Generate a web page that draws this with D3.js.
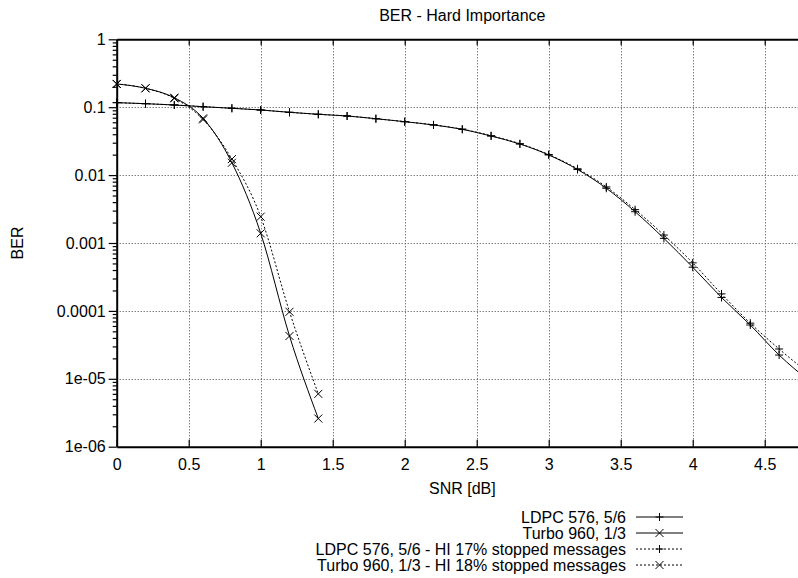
<!DOCTYPE html>
<html>
<head>
<meta charset="utf-8">
<script src="https://cdn.jsdelivr.net/npm/d3@7"></script>
<style>
  html, body { margin: 0; padding: 0; background: #fff; }
  svg { display: block; }
  text { font-family: "Liberation Sans", Arial, Helvetica, sans-serif; fill: #000; }
</style>
</head>
<body>
<svg id="chart" width="798" height="578"></svg>
<script>
// ---------- data ----------
const snrLdpc = [0, 0.2, 0.4, 0.6, 0.8, 1.0, 1.2, 1.4, 1.6, 1.8, 2.0, 2.2, 2.4, 2.6, 2.8, 3.0, 3.2, 3.4, 3.6, 3.8, 4.0, 4.2, 4.4, 4.6, 4.8];
const berLdpc = [0.1166, 0.1127, 0.1078, 0.1018, 0.0964, 0.091, 0.0841, 0.0786, 0.0742, 0.0677, 0.0612, 0.0547, 0.0472, 0.0376, 0.0287, 0.0198, 0.0121, 0.0064, 0.00289, 0.00117, 0.00044, 0.000158, 0.000062, 0.0000224, 0.0000096];
const berLdpcHI = [0.1166, 0.1127, 0.1078, 0.1018, 0.0964, 0.091, 0.0841, 0.0786, 0.0742, 0.0677, 0.0612, 0.0550, 0.0475, 0.0380, 0.0290, 0.0201, 0.0124, 0.0067, 0.0031, 0.00131, 0.00051, 0.000178, 0.000066, 0.0000275, 0.0000123];
const snrTurbo = [0, 0.2, 0.4, 0.6, 0.8, 1.0, 1.2, 1.4];
const berTurbo = [0.22, 0.19, 0.138, 0.0686, 0.0152, 0.00139, 0.0000427, 0.0000026];
const berTurboHI = [0.22, 0.19, 0.135, 0.066, 0.0172, 0.00244, 0.000097, 0.000006];

const xTickValues = [0, 0.5, 1, 1.5, 2, 2.5, 3, 3.5, 4, 4.5];
const xTickLabels = ["0", "0.5", "1", "1.5", "2", "2.5", "3", "3.5", "4", "4.5"];
const yTickValues = [1, 0.1, 0.01, 0.001, 0.0001, 0.00001, 0.000001];
const yTickLabels = ["1", "0.1", "0.01", "0.001", "0.0001", "1e-05", "1e-06"];

const titleText = "BER - Hard Importance";
const xLabel = "SNR [dB]";
const yLabel = "BER";
const legendLabels = ["LDPC 576, 5/6", "Turbo 960, 1/3", "LDPC 576, 5/6 - HI 17% stopped messages", "Turbo 960, 1/3 - HI 18% stopped messages"];

// ---------- layout ----------
(function () {
const FS = 16;
const pLeft = 116.7, pTop = 39.3, pBottom = 446.7;
const svg = d3.select("#chart");

const x = d3.scaleLinear().domain([0, 4.8]).range([pLeft, pLeft + 4.8 * 144]);
const y = d3.scaleLog().domain([1e-6, 1]).range([pBottom, pTop]);
const pRight = x(4.8);

svg.append("defs").append("clipPath").attr("id", "plotclip")
  .append("rect").attr("x", pLeft).attr("y", pTop).attr("width", pRight - pLeft).attr("height", pBottom - pTop);

// grid
const grid = svg.append("g").attr("stroke", "#444").attr("stroke-width", 1).attr("stroke-dasharray", "1,2");
grid.selectAll("line.vx").data(xTickValues.filter(v => v > 0)).join("line")
  .attr("x1", d => Math.round(x(d)) + 0.5).attr("x2", d => Math.round(x(d)) + 0.5)
  .attr("y1", pTop).attr("y2", pBottom);
grid.selectAll("line.hy").data(yTickValues.filter(v => v < 1 && v > 1e-6)).join("line")
  .attr("y1", d => Math.round(y(d)) + 0.5).attr("y2", d => Math.round(y(d)) + 0.5)
  .attr("x1", pLeft).attr("x2", pRight);

// axes
const xAxisB = svg.append("g").attr("transform", `translate(0,${pBottom})`)
  .call(d3.axisBottom(x).tickValues(xTickValues).tickFormat((d, i) => xTickLabels[i]).tickSize(-7).tickPadding(12).tickSizeOuter(0));
const xAxisT = svg.append("g").attr("transform", `translate(0,${pTop})`)
  .call(d3.axisTop(x).tickValues(xTickValues).tickFormat("").tickSize(-6).tickSizeOuter(0));
const yAxis = svg.append("g").attr("transform", `translate(${pLeft},0)`)
  .call(d3.axisLeft(y).tickValues(yTickValues).tickFormat((d, i) => yTickLabels[i]).tickSize(8).tickPadding(3).tickSizeOuter(0));
const minorVals = [];
for (let e = -6; e < 0; e++) for (let m = 2; m <= 9; m++) minorVals.push(m * Math.pow(10, e));
svg.append("g").attr("transform", `translate(${pLeft},0)`)
  .call(d3.axisLeft(y).tickValues(minorVals).tickFormat("").tickSize(4).tickSizeOuter(0))
  .select(".domain").remove();

[xAxisB, xAxisT, yAxis].forEach(g => {
  g.select(".domain").attr("stroke", "#000").attr("stroke-width", 2);
  g.selectAll(".tick text").attr("font-size", FS).attr("font-family", "Liberation Sans, Arial, sans-serif").attr("fill", "#000");
});
svg.selectAll(".tick line").attr("stroke", "#000").attr("stroke-width", 1.2);

// titles
svg.append("text").attr("x", (pLeft + pRight) / 2).attr("y", 21).attr("text-anchor", "middle").attr("font-size", FS).text(titleText);
svg.append("text").attr("x", (pLeft + pRight) / 2).attr("y", 494).attr("text-anchor", "middle").attr("font-size", FS).text(xLabel);
svg.append("text").attr("transform", `translate(23,243) rotate(-90)`).attr("text-anchor", "middle").attr("font-size", FS).text(yLabel);

// series
const series = [
  { xs: snrLdpc, ys: berLdpc, dash: null, mark: "plus" },
  { xs: snrTurbo, ys: berTurbo, dash: null, mark: "cross" },
  { xs: snrLdpc, ys: berLdpcHI, dash: "2,2", mark: "plus" },
  { xs: snrTurbo, ys: berTurboHI, dash: "2,2", mark: "cross" }
];
const line = d3.line().x(d => x(d[0])).y(d => y(d[1])).curve(d3.curveMonotoneX);
const markPath = (type, cx, cy) => {
  const s = 4;
  if (type === "plus") return `M${cx - s},${cy}H${cx + s}M${cx},${cy - s}V${cy + s}`;
  return `M${cx - s},${cy - s}L${cx + s},${cy + s}M${cx - s},${cy + s}L${cx + s},${cy - s}`;
};
const plotG = svg.append("g").attr("clip-path", "url(#plotclip)");
series.forEach(s => {
  const pts = s.xs.map((v, i) => [v, s.ys[i]]);
  plotG.append("path").attr("d", line(pts)).attr("fill", "none").attr("stroke", "#000")
    .attr("stroke-width", 1).attr("stroke-dasharray", s.dash);
});
const markG = svg.append("g");
series.forEach(s => {
  s.xs.forEach((v, i) => {
    if (v > 4.75) return;
    markG.append("path").attr("d", markPath(s.mark, x(v), y(s.ys[i])))
      .attr("stroke", "#000").attr("stroke-width", 1).attr("fill", "none");
  });
});

// legend
const lg = svg.append("g");
legendLabels.forEach((lab, i) => {
  const cy = 517 + i * 16;
  lg.append("text").attr("x", 626).attr("y", cy + 5.5).attr("text-anchor", "end").attr("font-size", FS).text(lab);
  lg.append("line").attr("x1", 636).attr("x2", 683).attr("y1", cy).attr("y2", cy)
    .attr("stroke", "#000").attr("stroke-width", 1).attr("stroke-dasharray", series[i].dash);
  lg.append("path").attr("d", markPath(series[i].mark, 659.5, cy)).attr("stroke", "#000").attr("stroke-width", 1).attr("fill", "none");
});
})();
</script>
</body>
</html>
